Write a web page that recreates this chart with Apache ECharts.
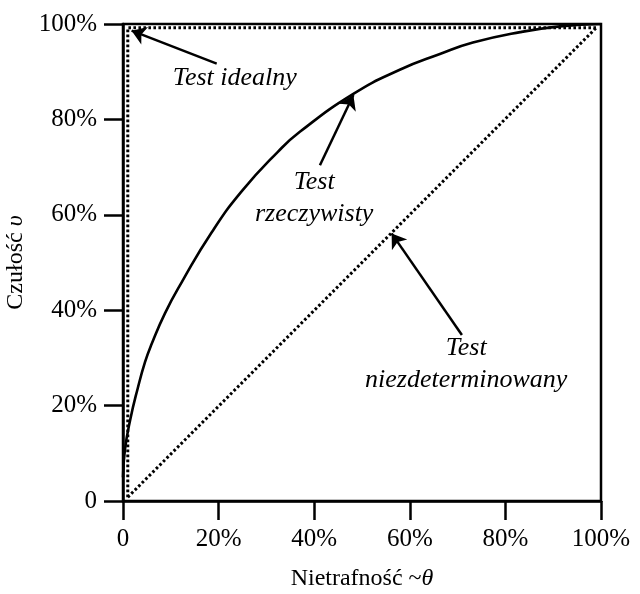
<!DOCTYPE html>
<html>
<head>
<meta charset="utf-8">
<script src="https://cdn.jsdelivr.net/npm/echarts@6/dist/echarts.min.js"></script>
<style>html,body{margin:0;padding:0;background:#fff}#c{width:640px;height:594px}</style>
</head>
<body>
<div id="c"></div>
<script>
// ---- data ----
var tickValues = [0, 20, 40, 60, 80, 100];
var curveX = [0, 0.4, 1.5, 3.1, 4.6, 5.9, 8.8, 12.3, 18.6, 24.9, 32.4, 37, 48.1, 57.9, 66.3, 73.2, 83.1, 91.4, 100];
var curveY = [5, 10.7, 17, 23.7, 29.1, 32.7, 39.4, 45.9, 56.4, 65, 73.2, 77.4, 85.3, 90.4, 93.7, 96.1, 98.3, 99.5, 100];
var idealX = [1, 1, 99];
var idealY = [0.8, 99.2, 99.2];
var randomX = [1, 99];
var randomY = [0.8, 99.2];
var labelTexts = ['Test idealny', 'Test\nrzeczywisty', 'Test\nniezdeterminowany'];
var labelX = [23.4, 40, 71.8];
var labelY = [88.7, 63.5, 28.7];
var arrowFrom = [[19.6, 91.7], [41.2, 70.4], [70.9, 34.8]];
var arrowTo = [[1.8, 98.6], [48.2, 85.1], [56.2, 56.1]];
var xName = 'Nietrafność ~';
var yName = 'Czułość';

function pairs(xs, ys) { return xs.map(function (x, i) { return [x, ys[i]]; }); }

var font = 'Liberation Serif, Times New Roman, serif';
var pctFmt = function (v) { return v === 0 ? '0' : v + '%'; };

var axisCommon = {
  type: 'value', min: 0, max: 100, interval: 20,
  axisLine: { show: true, lineStyle: { color: '#000', width: 2.5 } },
  axisTick: { show: true, length: 19, lineStyle: { color: '#000', width: 2.5 } },
  axisLabel: { formatter: pctFmt, color: '#000', fontFamily: font, fontSize: 25, margin: 26 },
  splitLine: { show: false },
  nameLocation: 'middle'
};
var nameStyle = { color: '#000', fontFamily: font, fontSize: 24, rich: { i: { fontStyle: 'italic', fontFamily: font, fontSize: 24, color: '#000' } } };

var chart = echarts.init(document.getElementById('c'));
chart.setOption({
  animation: false,
  backgroundColor: '#fff',
  grid: { left: 123, right: 39, top: 24, bottom: 93, show: true, borderColor: '#000', borderWidth: 2.5, containLabel: false, outerBoundsMode: 'none' },
  xAxis: Object.assign({}, axisCommon, { name: xName + '{i|θ}', nameGap: 66, nameTextStyle: nameStyle }),
  yAxis: Object.assign({}, axisCommon, { name: yName + ' {i|υ}', nameGap: 89, nameRotate: 90, nameTextStyle: nameStyle }),
  series: [
    {
      type: 'line', data: pairs(idealX, idealY), showSymbol: false, symbol: 'none',
      lineStyle: { color: '#000', width: 3, type: [2.6, 2.4] }, z: 2
    },
    {
      type: 'line', data: pairs(randomX, randomY), showSymbol: false, symbol: 'none',
      lineStyle: { color: '#000', width: 3, type: [2.6, 2.4] }, z: 2
    },
    {
      type: 'line', data: pairs(curveX, curveY), showSymbol: false, symbol: 'none', smooth: 0.5,
      lineStyle: { color: '#000', width: 2.6 }, z: 3
    },
    {
      type: 'lines', coordinateSystem: 'cartesian2d',
      data: arrowFrom.map(function (f, i) { return { coords: [f, arrowTo[i]] }; }),
      symbol: ['none', 'arrow'], symbolSize: [9, 14],
      lineStyle: { color: '#000', width: 2.5, curveness: 0, opacity: 1 }, z: 4
    },
    {
      type: 'scatter', symbolSize: 1, itemStyle: { color: 'rgba(0,0,0,0)', opacity: 1 },
      data: labelTexts.map(function (t, i) { return { value: [labelX[i], labelY[i]], name: t }; }),
      label: {
        show: true, position: 'inside', formatter: function (p) { return p.name; }, opacity: 1,
        color: '#000', fontFamily: font, fontStyle: 'italic', fontSize: 26, lineHeight: 32, align: 'center', verticalAlign: 'middle'
      },
      emphasis: { disabled: true },
      z: 5
    }
  ]
});
</script>
</body>
</html>
